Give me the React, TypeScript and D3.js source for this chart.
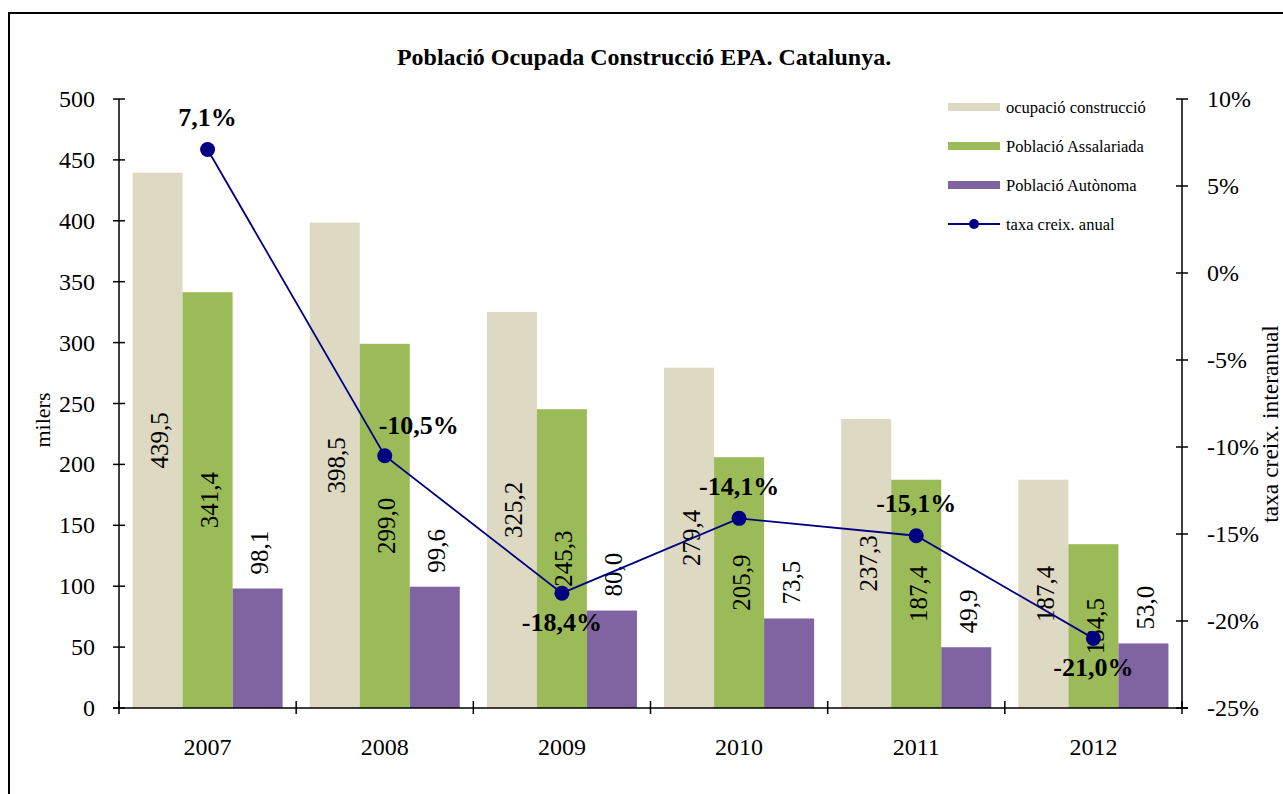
import * as d3 from "d3";

const years = ["2007", "2008", "2009", "2010", "2011", "2012"];
const ocupacio = [439.5, 398.5, 325.2, 279.4, 237.3, 187.4];
const assalariada = [341.4, 299.0, 245.3, 205.9, 187.4, 134.5];
const autonoma = [98.1, 99.6, 80.0, 73.5, 49.9, 53.0];
const taxa = [7.1, -10.5, -18.4, -14.1, -15.1, -21.0];
const taxaLabelPos = ["above", "aboveRight", "below", "above", "above", "below"];
const leftTicks = [0, 50, 100, 150, 200, 250, 300, 350, 400, 450, 500];
const rightTicks = [10, 5, 0, -5, -10, -15, -20, -25];

const seriesNames = ["ocupació construcció", "Població Assalariada", "Població Autònoma"];
const seriesColors = ["#DDD9C3", "#9BBB59", "#8064A2"];
const seriesData = [ocupacio, assalariada, autonoma];

const W = 1283;
const H = 794;
const plot = { left: 119, right: 1182, top: 99, bottom: 708 };
const FONT = "'Liberation Serif', 'Times New Roman', serif";
const fmt = (v: number) => v.toFixed(1).replace(".", ",");

export default function App() {
  const x = d3
    .scaleBand()
    .domain(years)
    .range([plot.left, plot.right])
    .paddingInner(0.153)
    .paddingOuter(0.0765);
  const xs = d3
    .scaleBand()
    .domain(seriesNames)
    .range([0, x.bandwidth()]);
  const y = d3.scaleLinear().domain([0, 500]).range([plot.bottom, plot.top]);
  const y2 = d3.scaleLinear().domain([-25, 10]).range([plot.bottom, plot.top]);

  const line = d3
    .line<number>()
    .x((_, i) => x(years[i])! + x.bandwidth() / 2)
    .y((d) => y2(d));

  const step = x.step();
  const boundaries = d3.range(years.length + 1).map((i) => plot.left + i * step);

  return (
    <div style={{ position: "fixed", left: 0, top: 0 }}>
      <svg width={W} height={H} style={{ display: "block", background: "#fff" }} fontFamily={FONT}>
        <rect x={9} y={13} width={W + 20} height={H + 20} fill="none" stroke="#000" strokeWidth={2} />

        <text x={644} y={65} textAnchor="middle" fontSize={24} fontWeight="bold">
          Població Ocupada Construcció EPA. Catalunya.
        </text>

        {/* bars */}
        {seriesData.map((vals, s) => (
          <g key={s}>
            {vals.map((v, i) => (
              <rect
                key={i}
                x={x(years[i])! + xs(seriesNames[s])!}
                y={y(v)}
                width={xs.bandwidth()}
                height={y(0) - y(v)}
                fill={seriesColors[s]}
              />
            ))}
          </g>
        ))}

        {/* bar labels */}
        {seriesData.map((vals, s) => (
          <g key={"l" + s}>
            {vals.map((v, i) => {
              const cx = x(years[i])! + xs(seriesNames[s])! + xs.bandwidth() / 2 + 2;
              const outside = s === 2;
              const cy = outside ? y(v) - 14 : (y(v) + y(0)) / 2;
              return (
                <text
                  key={i}
                  transform={`translate(${cx},${cy}) rotate(-90)`}
                  textAnchor={outside ? "start" : "middle"}
                  dominantBaseline="central"
                  fontSize={25}
                >
                  {fmt(v)}
                </text>
              );
            })}
          </g>
        ))}

        {/* left axis */}
        <line x1={plot.left} x2={plot.left} y1={plot.top} y2={plot.bottom} stroke="#000" strokeWidth={1.5} />
        {leftTicks.map((t) => (
          <g key={t}>
            <line x1={plot.left - 6} x2={plot.left + 6} y1={y(t)} y2={y(t)} stroke="#000" strokeWidth={1.5} />
            <text x={plot.left - 24} y={y(t)} textAnchor="end" dominantBaseline="central" fontSize={24}>
              {t}
            </text>
          </g>
        ))}
        <text transform={`translate(42,420) rotate(-90)`} textAnchor="middle" dominantBaseline="central" fontSize={22}>
          milers
        </text>

        {/* right axis */}
        <line x1={plot.right} x2={plot.right} y1={plot.top} y2={plot.bottom} stroke="#000" strokeWidth={1.5} />
        {rightTicks.map((t) => (
          <g key={t}>
            <line x1={plot.right - 6} x2={plot.right + 6} y1={y2(t)} y2={y2(t)} stroke="#000" strokeWidth={1.5} />
            <text x={plot.right + 25} y={y2(t)} textAnchor="start" dominantBaseline="central" fontSize={24}>
              {t + "%"}
            </text>
          </g>
        ))}
        <text transform={`translate(1270,424) rotate(-90)`} textAnchor="middle" dominantBaseline="central" fontSize={23.5}>
          taxa creix. interanual
        </text>

        {/* x axis */}
        <line x1={plot.left - 6} x2={plot.right + 6} y1={plot.bottom} y2={plot.bottom} stroke="#000" strokeWidth={1.5} />
        {boundaries.map((b, i) => (
          <line key={i} x1={b} x2={b} y1={plot.bottom - 7} y2={plot.bottom + 6} stroke="#000" strokeWidth={1.5} />
        ))}
        {years.map((yr) => (
          <text key={yr} x={x(yr)! + x.bandwidth() / 2} y={747} textAnchor="middle" dominantBaseline="central" fontSize={24}>
            {yr}
          </text>
        ))}

        {/* growth line */}
        <path d={line(taxa)!} fill="none" stroke="#000080" strokeWidth={1.8} />
        {taxa.map((v, i) => {
          const cx = x(years[i])! + x.bandwidth() / 2;
          const cy = y2(v);
          const pos = taxaLabelPos[i];
          const lx = pos === "aboveRight" ? cx + 34 : cx;
          const ly = pos === "below" ? cy + 29 : pos === "aboveRight" ? cy - 30 : cy - 32;
          return (
            <g key={i}>
              <circle cx={cx} cy={cy} r={7.5} fill="#000080" />
              <text x={lx} y={ly} textAnchor="middle" dominantBaseline="central" fontSize={26} fontWeight="bold">
                {fmt(v) + "%"}
              </text>
            </g>
          );
        })}

        {/* legend */}
        {seriesNames.map((n, i) => (
          <g key={n} transform={`translate(948,${107 + i * 39})`}>
            <rect x={0} y={-4} width={52} height={8} fill={seriesColors[i]} />
            <text x={58} y={0} dominantBaseline="central" fontSize={16.5}>
              {n}
            </text>
          </g>
        ))}
        <g transform={`translate(948,${107 + 3 * 39})`}>
          <line x1={0} x2={52} y1={0} y2={0} stroke="#000080" strokeWidth={1.8} />
          <circle cx={26} cy={0} r={5} fill="#000080" />
          <text x={58} y={0} dominantBaseline="central" fontSize={16.5}>
            taxa creix. anual
          </text>
        </g>
      </svg>
    </div>
  );
}
